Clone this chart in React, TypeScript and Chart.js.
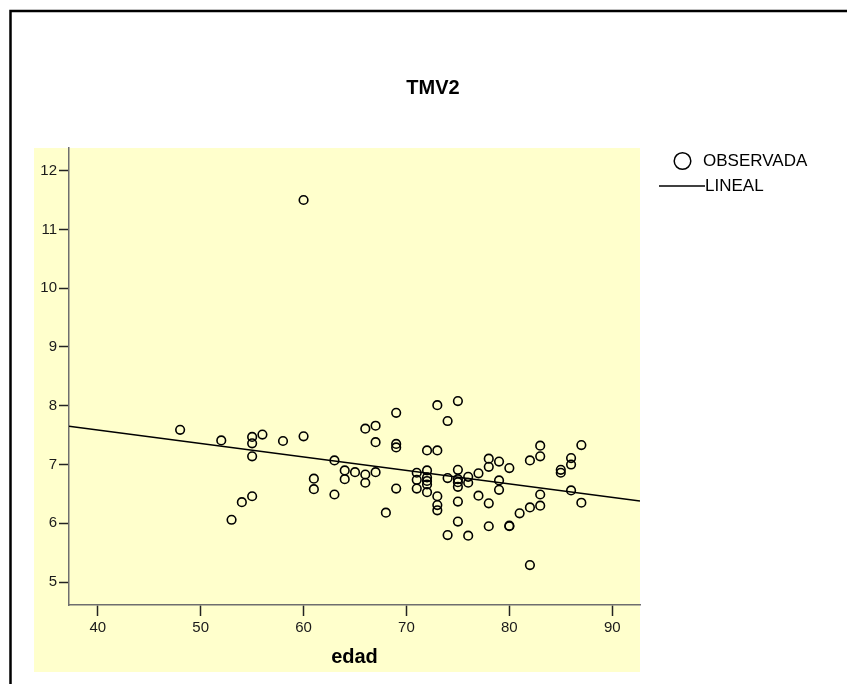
import React, { useEffect, useRef } from "react";
import { Chart, registerables } from "chart.js";

Chart.register(...registerables);

const chartTitle = "TMV2";
const xAxisTitle = "edad";
const legendLabels = ["OBSERVADA", "LINEAL"];

const xTicks = [40, 50, 60, 70, 80, 90];
const yTicks = [5, 6, 7, 8, 9, 10, 11, 12];
const xRange = [37.2, 92.7];
const yRange = [4.61, 12.385];

// observed points (edad, TMV2)
const obsX = [
  48, 52, 53, 54, 55, 55, 55, 55, 56, 58, 60, 60, 61, 61, 63, 63, 64, 64, 65, 66,
  66, 66, 67, 67, 67, 68, 69, 69, 69, 69, 71, 71, 71, 72, 72, 72, 72, 72, 72, 73,
  73, 73, 73, 73, 74, 74, 74, 75, 75, 75, 75, 75, 75, 75, 76, 76, 76, 77, 77, 78,
  78, 78, 78, 79, 79, 79, 80, 80, 80, 81, 82, 82, 82, 83, 83, 83, 83, 85, 85, 86,
  86, 86, 87, 87,
];
const obsY = [
  7.59, 7.41, 6.06, 6.36, 7.47, 7.36, 7.14, 6.46, 7.51, 7.4, 7.48, 11.5, 6.76, 6.58, 7.07, 6.49, 6.9, 6.75, 6.87, 7.61,
  6.83, 6.69, 7.66, 7.38, 6.87, 6.18, 7.88, 7.35, 7.29, 6.59, 6.86, 6.74, 6.59, 7.24, 6.9, 6.78, 6.72, 6.66, 6.53, 8.01,
  7.24, 6.46, 6.31, 6.22, 7.74, 6.77, 5.8, 8.08, 6.91, 6.75, 6.7, 6.62, 6.37, 6.03, 6.79, 6.69, 5.79, 6.85, 6.47, 7.1,
  6.96, 6.34, 5.95, 7.05, 6.73, 6.57, 6.94, 5.96, 5.95, 6.17, 7.07, 6.27, 5.29, 7.32, 7.14, 6.49, 6.3, 6.91, 6.86, 7.11,
  7.0, 6.56, 7.33, 6.35,
];

// fitted linear line (endpoints at plot edges)
const lineX = [37.2, 92.7];
const lineY = [7.65, 6.38];

const FONT = "'Liberation Sans', Arial, Helvetica, sans-serif";

const decorPlugin = {
  id: "decor",
  beforeDraw(chart: any) {
    const ctx = chart.ctx;
    ctx.save();
    ctx.fillStyle = "#ffffff";
    ctx.fillRect(0, 0, chart.width, chart.height);
    ctx.fillStyle = "#ffffcc";
    ctx.fillRect(34, 148, 606, 524);
    ctx.restore();
  },
  afterDraw(chart: any) {
    const ctx = chart.ctx;
    ctx.save();
    // outer frame
    ctx.strokeStyle = "#000";
    ctx.lineWidth = 2.5;
    ctx.strokeRect(10.5, 11, 1000, 1000);
    // title
    ctx.fillStyle = "#000";
    ctx.font = `bold 20px ${FONT}`;
    ctx.textAlign = "center";
    ctx.textBaseline = "middle";
    ctx.fillText(chartTitle, 433, 88);
    // legend
    ctx.font = `17px ${FONT}`;
    ctx.textAlign = "left";
    ctx.lineWidth = 1.5;
    ctx.beginPath();
    ctx.arc(682.5, 161, 8.3, 0, Math.PI * 2);
    ctx.stroke();
    ctx.fillText(legendLabels[0], 703, 161);
    ctx.beginPath();
    ctx.moveTo(659, 186);
    ctx.lineTo(705, 186);
    ctx.stroke();
    ctx.fillText(legendLabels[1], 705, 186);
    ctx.restore();
  },
};

export default function App() {
  const ref = useRef<HTMLCanvasElement>(null);

  useEffect(() => {
    if (!ref.current) return;
    const chart = new Chart(ref.current, {
      type: "scatter",
      data: {
        datasets: [
          {
            label: legendLabels[0],
            data: obsX.map((x, i) => ({ x, y: obsY[i] })),
            pointRadius: 4.3,
            pointBorderWidth: 1.6,
            pointBorderColor: "#000",
            pointBackgroundColor: "rgba(0,0,0,0)",
            showLine: false,
          },
          {
            label: legendLabels[1],
            data: lineX.map((x, i) => ({ x, y: lineY[i] })),
            showLine: true,
            borderColor: "#000",
            borderWidth: 1.5,
            pointRadius: 0,
            fill: false,
          },
        ],
      },
      options: {
        responsive: false,
        animation: false,
        devicePixelRatio: 1,
        layout: { padding: { left: 34, top: 148, right: 207, bottom: 12 } },
        plugins: {
          legend: { display: false },
          title: { display: false },
          tooltip: { enabled: false },
        },
        scales: {
          x: {
            type: "linear",
            min: xRange[0],
            max: xRange[1],
            afterFit: (s: any) => {
              s.height = 67;
            },
            afterBuildTicks: (s: any) => {
              s.ticks = xTicks.map((v) => ({ value: v }));
            },
            grid: {
              display: true,
              drawOnChartArea: false,
              drawTicks: true,
              tickLength: 11,
              tickColor: "#222",
              tickWidth: 1.5,
            },
            border: { display: true, color: "#6e6e6e", width: 1.5 },
            ticks: {
              color: "#1a1a1a",
              padding: 3,
              maxRotation: 0,
              font: { family: FONT, size: 15 },
            },
            title: {
              display: true,
              text: xAxisTitle,
              color: "#000",
              font: { family: FONT, size: 20, weight: "bold" },
              padding: { top: 0, bottom: 3 },
            },
          },
          y: {
            type: "linear",
            min: yRange[0],
            max: yRange[1],
            afterFit: (s: any) => {
              s.width = 35;
            },
            afterBuildTicks: (s: any) => {
              s.ticks = yTicks.map((v) => ({ value: v }));
            },
            grid: {
              display: true,
              drawOnChartArea: false,
              drawTicks: true,
              tickLength: 10,
              tickColor: "#222",
              tickWidth: 1.5,
            },
            border: { display: true, color: "#6e6e6e", width: 1.5 },
            ticks: {
              color: "#1a1a1a",
              padding: 2,
              font: { family: FONT, size: 15 },
            },
          },
        },
      },
      plugins: [decorPlugin],
    });
    return () => chart.destroy();
  }, []);

  return (
    <div style={{ position: "fixed", left: 0, top: 0, width: 847, height: 684 }}>
      <canvas ref={ref} width={847} height={684} style={{ width: 847, height: 684, display: "block" }} />
    </div>
  );
}
